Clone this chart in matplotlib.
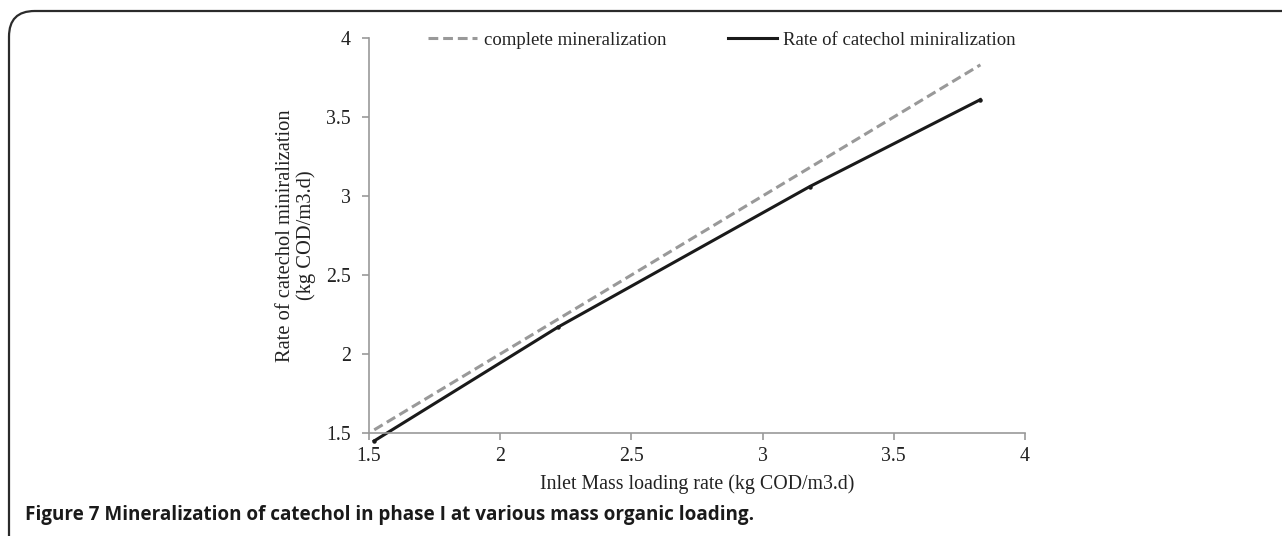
import matplotlib
matplotlib.use("Agg")
import matplotlib.pyplot as plt
from matplotlib.patches import FancyBboxPatch

loading = [1.52, 2.22, 3.18, 3.83]
complete = [1.52, 2.22, 3.18, 3.83]
catechol = [1.45, 2.17, 3.06, 3.61]
xticks = [1.5, 2, 2.5, 3, 3.5, 4]
yticks = [1.5, 2, 2.5, 3, 3.5, 4]

W, H = 1282, 536
fig = plt.figure(figsize=(W / 100, H / 100), dpi=100)
serif = ["Liberation Serif", "DejaVu Serif"]
fs = 14.3

# frame (rounded, open at right/bottom)
frame = FancyBboxPatch((9 / W, -0.2), 1.3, 1.2 - 11 / H,
                       boxstyle="round,pad=0,rounding_size=0.02",
                       transform=fig.transFigure, fill=False,
                       edgecolor="#2b2b2b", linewidth=1.6, mutation_aspect=W / H)
fig.patches.append(frame)

ax = fig.add_axes([369 / W, 1 - 433 / H, (1025 - 369) / W, (433 - 38) / H])
ax.plot(loading, complete, color="#999999", linestyle=(0, (3.2, 1.6)), linewidth=2.2,
        label="complete mineralization", clip_on=False)
ax.plot(loading, catechol, color="#1a1a1a", linestyle="-", linewidth=2.2,
        marker="o", markersize=2.2, label="Rate of catechol miniralization",
        clip_on=False)

ax.set_xlim(1.5, 4)
ax.set_ylim(1.5, 4)
ax.set_xticks(xticks)
ax.set_yticks(yticks)
ax.set_xticklabels([f"{v:g}" for v in xticks], family=serif, fontsize=fs)
ax.set_yticklabels([f"{v:g}" for v in yticks], family=serif, fontsize=fs)
for s in ["top", "right"]:
    ax.spines[s].set_visible(False)
for s in ["left", "bottom"]:
    ax.spines[s].set_color("#999999")
    ax.spines[s].set_linewidth(1.2)
ax.tick_params(axis="both", direction="out", length=5, width=1.2, color="#999999",
               labelcolor="#222222", pad=5)
ax.tick_params(axis="y", pad=8)
ax.patch.set_alpha(0)

ax.set_xlabel("Inlet Mass loading rate (kg COD/m3.d)", family=serif, fontsize=fs,
              color="#222222", labelpad=6)
ax.set_ylabel("Rate of catechol miniralization\n(kg COD/m3.d)", family=serif,
              fontsize=14.8, color="#222222", labelpad=7, linespacing=1.1)

leg = fig.legend(loc="center", bbox_to_anchor=(722 / W, 1 - 40 / H), ncol=2,
                 frameon=False, prop={"family": serif, "size": 13.5},
                 handlelength=2.6, columnspacing=3.3, handletextpad=0.35)
for t in leg.get_texts():
    t.set_color("#222222")
for lh in leg.get_lines():
    lh.set_marker("")

fig.text(25 / W, 1 - 515 / H,
         "Figure 7 Mineralization of catechol in phase I at various mass organic loading.",
         family=["Open Sans", "DejaVu Sans"], fontweight="bold", fontsize=13.6,
         color="#1a1a1a", va="center", ha="left")

fig.savefig("out.png", dpi=100)
